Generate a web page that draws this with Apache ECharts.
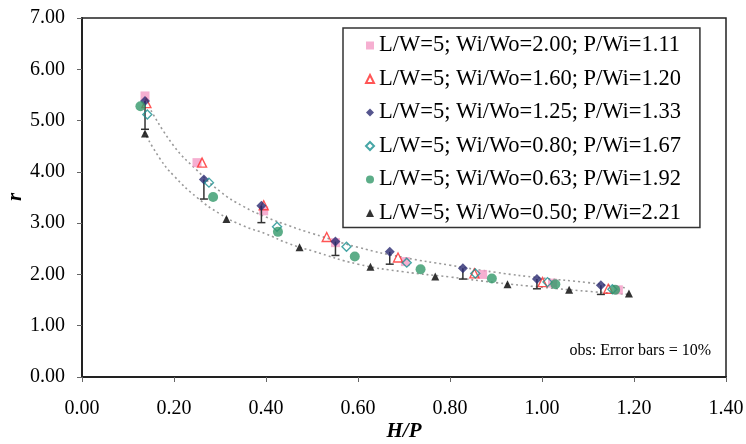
<!DOCTYPE html>
<html>
<head>
<meta charset="utf-8">
<script src="https://cdn.jsdelivr.net/npm/echarts@6/dist/echarts.min.js"></script>
<style>html,body{margin:0;padding:0;background:#fff;}#c{width:746px;height:444px;}</style>
</head>
<body>
<div id="c"></div>
<script>
// ---- data ----
const names = [
  'L/W=5; Wi/Wo=2.00; P/Wi=1.11',
  'L/W=5; Wi/Wo=1.60; P/Wi=1.20',
  'L/W=5; Wi/Wo=1.25; P/Wi=1.33',
  'L/W=5; Wi/Wo=0.80; P/Wi=1.67',
  'L/W=5; Wi/Wo=0.63; P/Wi=1.92',
  'L/W=5; Wi/Wo=0.50; P/Wi=2.21'
];
const hp1 = [0.137, 0.250, 0.395, 0.551, 0.703, 0.871, 1.023, 1.166];
const r1  = [5.48, 4.18, 3.24, 2.62, 2.25, 2.00, 1.83, 1.70];
const hp2 = [0.140, 0.261, 0.395, 0.532, 0.687, 0.853, 1.001, 1.144];
const r2  = [5.34, 4.18, 3.35, 2.73, 2.33, 2.02, 1.85, 1.72];
const hp3 = [0.137, 0.265, 0.390, 0.551, 0.669, 0.828, 0.989, 1.128];
const r3  = [5.38, 3.85, 3.34, 2.64, 2.44, 2.12, 1.91, 1.79];
const errLow3 = [4.83, 3.47, 3.01, 2.37, 2.20, 1.91, 1.72, 1.61];
const hp4 = [0.142, 0.276, 0.424, 0.575, 0.706, 0.855, 1.012, 1.153];
const r4  = [5.12, 3.79, 2.93, 2.54, 2.23, 2.02, 1.85, 1.71];
const hp5 = [0.127, 0.285, 0.426, 0.593, 0.736, 0.891, 1.029, 1.159];
const r5  = [5.28, 3.51, 2.83, 2.35, 2.10, 1.92, 1.81, 1.70];
const hp6 = [0.137, 0.314, 0.473, 0.627, 0.768, 0.925, 1.059, 1.189];
const r6  = [4.75, 3.08, 2.53, 2.15, 1.96, 1.81, 1.70, 1.63];
// dotted trend curves
const trendUpX = [0.15, 0.20, 0.25, 0.30, 0.35, 0.40, 0.45, 0.50, 0.60, 0.70, 0.80, 0.90, 1.00, 1.10, 1.18];
const trendUpY = [5.20, 4.50, 4.03, 3.62, 3.33, 3.12, 2.95, 2.80, 2.53, 2.33, 2.18, 2.04, 1.93, 1.84, 1.74];
const trendLoX = [0.135, 0.17, 0.20, 0.25, 0.30, 0.35, 0.40, 0.45, 0.50, 0.60, 0.70, 0.80, 0.90, 1.00, 1.10, 1.19];
const trendLoY = [4.78, 4.25, 3.92, 3.50, 3.18, 2.95, 2.79, 2.60, 2.46, 2.20, 2.05, 1.95, 1.84, 1.75, 1.67, 1.61];
const xTicks = ['0.00','0.20','0.40','0.60','0.80','1.00','1.20','1.40'];
const yTicks = ['0.00','1.00','2.00','3.00','4.00','5.00','6.00','7.00'];
const xTitle = 'H/P';
const yTitle = 'r';
const note = 'obs: Error bars = 10%';

const FONT = '"Liberation Serif", "Times New Roman", serif';
const zip = (a, b) => a.map((v, i) => [v, b[i]]);

const chart = echarts.init(document.getElementById('c'), null, {renderer: 'canvas'});
const transparent = 'rgba(0,0,0,0)';

const option = {
  animation: false,
  backgroundColor: '#fff',
  grid: {left: 82, right: 20, top: 18, bottom: 67, containLabel: false, outerBoundsMode: 'none',
    show: true, borderColor: '#222', borderWidth: 1.5, backgroundColor: transparent},
  xAxis: {
    type: 'value', min: 0, max: 1.4, interval: 0.2,
    name: xTitle, nameLocation: 'middle', nameGap: 44, nameMoveOverlap: false,
    nameTextStyle: {fontFamily: FONT, fontSize: 21, fontWeight: 'bold', fontStyle: 'italic', color: '#000'},
    axisLine: {show: true, onZero: false, lineStyle: {color: '#222', width: 2}},
    axisTick: {show: true, inside: false, length: 5, lineStyle: {color: '#666', width: 1}},
    axisLabel: {margin: 22, fontFamily: FONT, fontSize: 20, color: '#000',
      formatter: v => xTicks[Math.round(v / 0.2)]},
    splitLine: {show: false}
  },
  yAxis: {
    type: 'value', min: 0, max: 7, interval: 1,
    axisLine: {show: true, onZero: false, lineStyle: {color: '#222', width: 2}},
    axisTick: {show: true, inside: false, length: 5, lineStyle: {color: '#666', width: 1}},
    axisLabel: {margin: 17, fontFamily: FONT, fontSize: 20, color: '#000',
      formatter: v => yTicks[Math.round(v)]},
    splitLine: {show: false}
  },
  legend: {
    data: names,
    orient: 'vertical',
    left: 343, top: 28,
    padding: [6, 19, 3, 22],
    itemWidth: 8, itemHeight: 8, itemGap: 10.5,
    borderColor: '#333', borderWidth: 1.5,
    backgroundColor: '#fff',
    textStyle: {fontFamily: FONT, fontSize: 22.5, color: '#000', lineHeight: 22},
    selectedMode: false
  },
  graphic: [
    {type: 'text', right: 35, top: 343,
      style: {text: note, font: '16px ' + FONT, fill: '#000'}},
    {type: 'text', x: 16, y: 197, rotation: Math.PI / 2,
      style: {text: yTitle, font: 'italic bold 21px ' + FONT, fill: '#000', align: 'center', verticalAlign: 'middle'}}
  ],
  series: [
    {type: 'line', name: 'trendUp', data: zip(trendUpX, trendUpY), smooth: true, symbol: 'none',
      lineStyle: {color: '#9a9a9a', width: 1.6, type: [2, 3]}, z: 1, silent: true},
    {type: 'line', name: 'trendLo', data: zip(trendLoX, trendLoY), smooth: true, symbol: 'none',
      lineStyle: {color: '#9a9a9a', width: 1.6, type: [2, 3]}, z: 1, silent: true},
    {type: 'scatter', name: names[0], data: zip(hp1, r1), symbol: 'rect', symbolSize: 9,
      itemStyle: {color: '#F49BC6'}, z: 2},
    {type: 'scatter', name: names[1], data: zip(hp2, r2), symbol: 'triangle', symbolSize: 9,
      itemStyle: {color: transparent, borderColor: '#FF2B2B', borderWidth: 1.4}, z: 3},
    {type: 'custom', name: 'err', z: 4, silent: true,
      data: hp3.map((x, i) => [x, r3[i], errLow3[i]]),
      renderItem: function (params, api) {
        const top = api.coord([api.value(0), api.value(1)]);
        const bot = api.coord([api.value(0), api.value(2)]);
        const cw = 4;
        return {type: 'group', children: [
          {type: 'line', shape: {x1: top[0], y1: top[1], x2: bot[0], y2: bot[1]}, style: {stroke: '#333', lineWidth: 1.5}},
          {type: 'line', shape: {x1: bot[0] - cw, y1: bot[1], x2: bot[0] + cw, y2: bot[1]}, style: {stroke: '#333', lineWidth: 1.5}}
        ]};
      }},
    {type: 'scatter', name: names[2], data: zip(hp3, r3), symbol: 'diamond', symbolSize: 10,
      itemStyle: {color: '#2B2B72'}, z: 5},
    {type: 'scatter', name: names[3], data: zip(hp4, r4), symbol: 'diamond', symbolSize: 9,
      itemStyle: {color: transparent, borderColor: '#199090', borderWidth: 1.4}, z: 6},
    {type: 'scatter', name: names[4], data: zip(hp5, r5), symbol: 'circle', symbolSize: 10,
      itemStyle: {color: '#33996A'}, z: 7},
    {type: 'scatter', name: names[5], data: zip(hp6, r6), symbol: 'triangle', symbolSize: 8,
      itemStyle: {color: '#000'}, z: 8}
  ]
};
chart.setOption(option);
</script>
</body>
</html>
